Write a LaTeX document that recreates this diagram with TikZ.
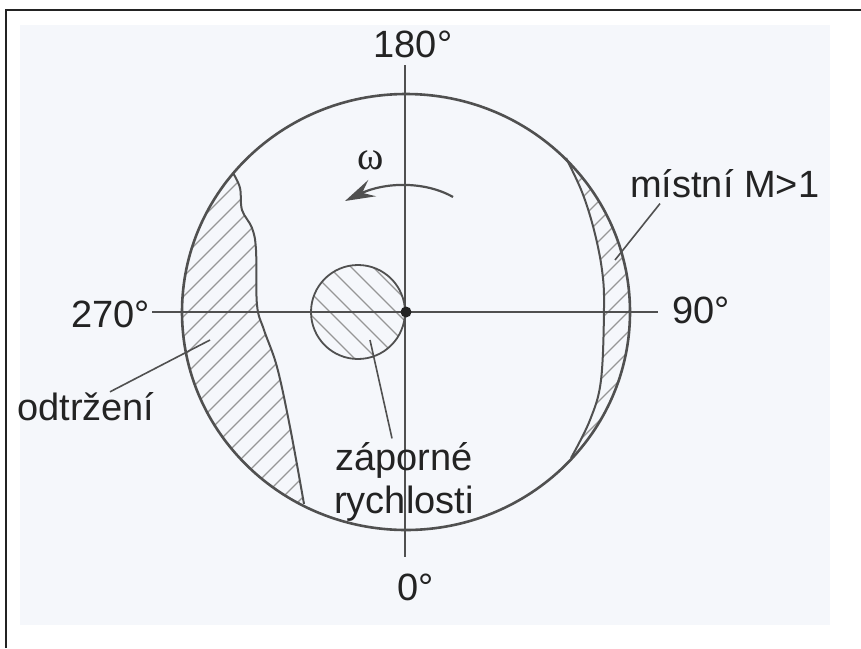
\documentclass[tikz,border=0pt]{standalone}
\usepackage{fontspec}
\setmainfont{Liberation Sans}
\newfontfamily\omegafont{Liberation Serif}
\usetikzlibrary{arrows.meta,calc}
\definecolor{cText}{RGB}{35,35,35}
\definecolor{cLine}{RGB}{80,80,80}
\definecolor{cHatch}{RGB}{150,150,150}
\definecolor{cPaper}{RGB}{245,247,251}
\tikzset{
  lbl/.style={inner sep=0pt,text=cText,font=\fontsize{38}{43}\selectfont},
  axisline/.style={draw=cLine,line width=1.8pt},
  rim/.style={draw=cLine,line width=2.6pt},
  bound/.style={draw=cLine,line width=2pt},
  hatch/.style={draw=cHatch,line width=1.3pt},
  leader/.style={draw=cLine,line width=1.6pt},
  hubdot/.style={circle,fill=cText,inner sep=0pt,minimum size=11pt},
  rotarr/.style={-{Stealth[length=30pt,width=18pt,inset=11pt]},draw=cLine,line width=2.2pt}
}

\begin{document}
\begin{tikzpicture}[x=1pt,y=-1pt]
  \useasboundingbox (0,0) rectangle (861,648);
  \fill[cPaper] (20,25) rectangle (830,625);
  \draw[line width=2pt,cText] (6,648) -- (6,10) -- (861,10);

  \coordinate (O) at (406,312);
  \coordinate (vTop) at (405,65);
  \coordinate (vBot) at (405,557);
  \coordinate (hL) at (152,312);
  \coordinate (hR) at (658,312);

  % odtrzeni
  \begin{scope}
    \clip (O) ellipse [x radius=224,y radius=218];
    \clip plot[smooth,tension=0.6] coordinates {(233,173) (240,188) (242,210) (252,228)
      (256,250) (257,305) (264,330) (277,367) (290,427) (304,504)}
      -- (150,560) -- (150,150) -- cycle;
    \foreach \c in {340,360,...,840} \draw[hatch] (\c,0) -- ++(-650,650);
  \end{scope}
  \draw[bound] plot[smooth,tension=0.6] coordinates {(233,173) (240,188) (242,210) (252,228)
      (256,250) (257,305) (264,330) (277,367) (290,427) (304,504)};

  % mistni M>1
  \begin{scope}
    \clip (O) ellipse [x radius=224,y radius=218];
    \clip plot[smooth,tension=0.6] coordinates {(566,158) (582,192) (594,230) (602,270)
      (604,307) (601,380) (590,420) (571,458)}
      -- (700,470) -- (700,150) -- cycle;
    \foreach \c in {720,740,...,1100} \draw[hatch] (\c,0) -- ++(-650,650);
  \end{scope}
  \draw[bound] plot[smooth,tension=0.6] coordinates {(566,158) (582,192) (594,230) (602,270)
      (604,307) (601,380) (590,420) (571,458)};

  % zaporne rychlosti
  \begin{scope}
    \clip (358,312) circle (47);
    \foreach \c in {-150,-128,...,70} \draw[hatch] (0,\c) -- ++(650,650);
  \end{scope}
  \draw[bound,line width=1.8pt] (358,312) circle (47);

  \draw[rim] (O) ellipse [x radius=224,y radius=218];
  \draw[axisline] (vTop) -- (vBot);
  \draw[axisline] (hL) -- (hR);
  \node[hubdot] (hub) at (O) {};

  \node[lbl,anchor=base] (lbl180) at (413,57) {180°};
  \node[lbl,anchor=base east] (lbl270) at (150,327) {270°};
  \node[lbl,anchor=base west] (lbl90) at (672,323) {90°};
  \node[lbl,anchor=base west] (lbl0) at (397,600) {0°};

  \node[lbl,anchor=base west] (mistni) at (630,197) {místní M>1};
  \node[lbl,anchor=base west] (odtrz) at (17,420) {odtržení};
  \node[lbl,align=center] (zap) at (404,482) {záporné\\rychlosti};
  \node[text=cText,inner sep=0pt,font=\omegafont\fontsize{40}{44}\selectfont] (omega) at (371,160) {ω};

  \coordinate (mistniPt) at (615,260);
  \coordinate (odtrzPt) at (210,340);
  \coordinate (zapPt) at (370,340);
  \draw[leader] (mistni.south west) ++(30,6) -- (mistniPt);
  \draw[leader] (odtrz.north west) ++(93,0) -- (odtrzPt);
  \draw[leader] (zap.north) ++(-12,-4) -- (zapPt);

  \coordinate (wA) at (453,197);
  \coordinate (wB) at (345,201);
  \draw[rotarr] (wA) .. controls (425,181) and (385,182) .. (wB);
\end{tikzpicture}
\end{document}
